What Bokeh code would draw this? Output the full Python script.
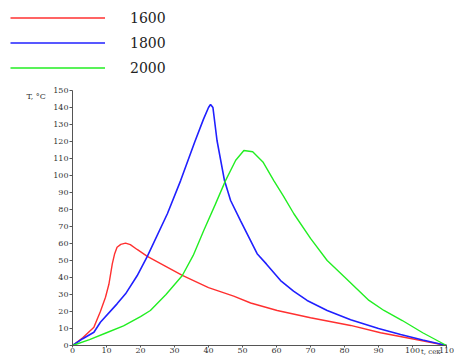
from bokeh.plotting import figure
from bokeh.models import Range1d, Legend, LegendItem, FixedTicker, Label
from bokeh.embed import file_html
from bokeh.resources import INLINE

# ---- data ----
t_1600 = [0, 3, 6.3, 8.2, 9.7, 10.7, 11.7, 12.4, 13.1, 14.2, 15.6, 17, 19, 22, 27, 32.3, 40, 47.4, 52.4, 60.2, 70, 81.8, 90.6, 101, 110]
v_1600 = [0, 4.5, 10.8, 20, 28.4, 36, 48, 54, 57.8, 59.5, 60.2, 59.3, 56.5, 52.4, 47, 41.2, 34, 29, 25, 20.6, 16.3, 11.8, 7.5, 3.5, 0]

t_1800 = [0, 3, 6.3, 8.2, 13.1, 15.6, 19, 22, 27.9, 31.8, 36, 38.5, 40, 40.6, 41.3, 42.5, 44.7, 46.5, 49.4, 54.3, 57, 61.2, 65, 69, 74.9, 81.8, 90, 96.5, 103, 110]
v_1800 = [0, 4, 7.8, 13.7, 24.5, 30.4, 41, 52.4, 77.5, 97, 120, 133, 140, 141.8, 140, 120.6, 97, 85.3, 73.5, 54, 48, 38.2, 32, 26.5, 20.6, 15.2, 10, 6.5, 3.2, 0]

t_2000 = [0, 5, 10, 15, 20, 22.9, 27.5, 32.3, 35.5, 38.6, 42, 45, 48, 50.4, 53, 56, 59.2, 62, 65.1, 70, 74.9, 80, 87.2, 91.6, 97, 103, 110]
v_2000 = [0, 3.5, 7.5, 11.5, 17, 20.6, 30, 41.2, 53, 67.6, 83, 97, 109, 114.7, 114, 108, 97, 88, 77.5, 63, 50, 40.3, 26.5, 20.6, 14.7, 7.5, 0]

series_names = ["1600", "1800", "2000"]
x_ticks = list(range(0, 111, 10))
y_ticks = list(range(0, 151, 10))
y_title = "T, °C"
x_title = "t, сек"

SERIF = "DejaVu Serif"

p = figure(width=454, height=356, output_backend="svg", toolbar_location=None,
           x_range=Range1d(-21.18, 112.35), y_range=Range1d(-6.47, 202.94))
p.min_border_left = 0
p.min_border_right = 0
p.min_border_top = 0
p.min_border_bottom = 0
p.outline_line_color = None
p.xgrid.visible = False
p.ygrid.visible = False
p.background_fill_color = "white"
p.border_fill_color = "white"

for ax, ticks in ((p.xaxis[0], x_ticks), (p.yaxis[0], y_ticks)):
    ax.ticker = FixedTicker(ticks=ticks)
    ax.fixed_location = 0
    ax.minor_tick_line_color = None
    ax.major_tick_in = 0
    ax.major_tick_out = 3
    ax.major_label_standoff = 1
    ax.major_label_text_font = SERIF
    ax.major_label_text_font_size = "8px"
    ax.major_label_text_color = "#333333"
    ax.axis_line_color = "#555555"
    ax.major_tick_line_color = "#555555"
p.xaxis[0].major_tick_out = 2
p.xaxis[0].major_label_standoff = 0
p.xaxis[0].bounds = (0, 110)
p.yaxis[0].bounds = (0, 150)

r1 = p.line(t_1600, v_1600, line_color="#ff3030", line_width=1.4)
r2 = p.line(t_1800, v_1800, line_color="#2020ff", line_width=1.6)
r3 = p.line(t_2000, v_2000, line_color="#22ee22", line_width=1.4)

legend = Legend(items=[LegendItem(label=n, renderers=[r]) for n, r in zip(series_names, [r1, r2, r3])],
                location=(10, 276), glyph_width=95, glyph_height=25, label_height=25,
                label_standoff=25, spacing=0, padding=0, margin=0,
                label_text_font=SERIF, label_text_font_size="14px", label_text_color="#222222",
                border_line_alpha=0, background_fill_alpha=0)
p.add_layout(legend)

p.add_layout(Label(x=-13.5, y=146.5, text=y_title,
                   text_font=SERIF, text_font_size="8px", text_color="#333333",
                   text_baseline="middle"))
p.add_layout(Label(x=102.5, y=-6.4, text=x_title,
                   text_font=SERIF, text_font_size="7px", text_color="#333333",
                   text_baseline="bottom"))

open("out.html", "w").write(file_html(p, INLINE))
